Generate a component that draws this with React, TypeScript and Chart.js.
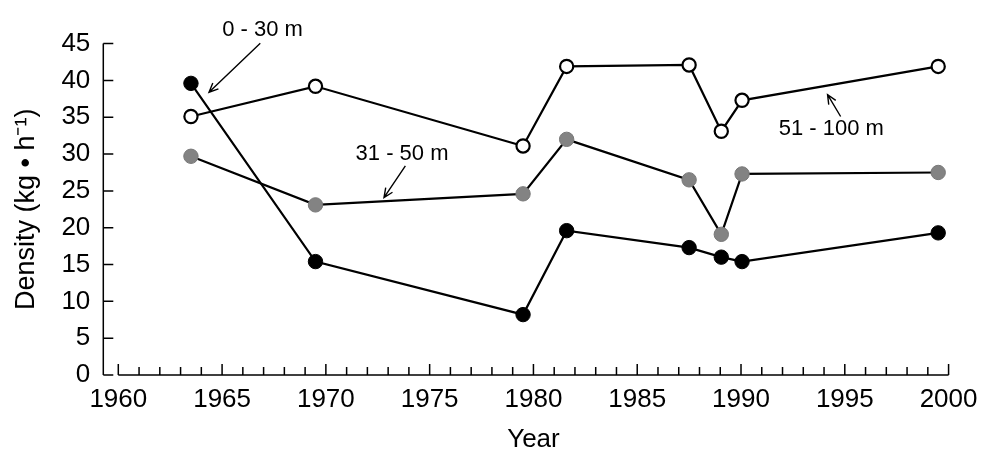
import React, { useEffect, useRef } from "react";
import { Chart, registerables } from "chart.js";

Chart.register(...registerables);

// ---- data ----
const years = [1963.5, 1969.5, 1979.5, 1981.6, 1987.5, 1989.05, 1990.05, 1999.5];
const depth0to30 = [39.6, 15.4, 8.2, 19.6, 17.3, 16.0, 15.4, 19.3];
const depth31to50 = [29.7, 23.1, 24.6, 32.0, 26.5, 19.1, 27.3, 27.5];
const depth51to100 = [35.1, 39.2, 31.1, 41.9, 42.1, 33.1, 37.3, 41.9];
const seriesNames = ["0 - 30 m", "31 - 50 m", "51 - 100 m"];

const xMin = 1960;
const xMax = 2000;
const xStep = 5;
const yMin = 0;
const yMax = 45;
const yStep = 5;
const xTitle = "Year";
const yTitle = "Density (kg \u2022 h\u207B\u00B9)";

// annotation anchors in data units (year, density)
const labelYears = [1966.95, 1973.67, 1994.35];
const labelValues = [46.8, 30.0, 33.4];
const arrowTailYears = [1966.84, 1973.83, 1994.8];
const arrowTailValues = [45.04, 28.4, 35.1];
const arrowHeadYears = [1964.37, 1972.8, 1994.17];
const arrowHeadValues = [38.4, 24.1, 38.07];

const FONT = "'Liberation Sans', Arial, Helvetica, sans-serif";

const axesPlugin = {
  id: "customAxes",
  beforeDatasetsDraw(chart: any) {
    const { ctx, scales } = chart;
    const x = scales.x;
    const y = scales.y;
    ctx.save();
    ctx.strokeStyle = "#000";
    ctx.lineWidth = 1.5;
    const y0 = y.getPixelForValue(yMin);
    const yTop = y.getPixelForValue(yMax);
    const ax = x.getPixelForValue(xMin) - 15;
    ctx.beginPath();
    ctx.moveTo(ax, yTop);
    ctx.lineTo(ax, y0);
    for (let v = yMin; v <= yMax; v += yStep) {
      const py = y.getPixelForValue(v);
      ctx.moveTo(ax, py);
      ctx.lineTo(ax + 10, py);
    }
    const xl = x.getPixelForValue(xMin);
    const xr = x.getPixelForValue(xMax);
    ctx.moveTo(xl, y0);
    ctx.lineTo(xr, y0);
    for (let yr = xMin; yr <= xMax; yr++) {
      const px = x.getPixelForValue(yr);
      const len = (yr - xMin) % xStep === 0 ? 11 : 8;
      ctx.moveTo(px, y0);
      ctx.lineTo(px, y0 - len);
    }
    ctx.stroke();
    ctx.restore();
  },
};

const annotationPlugin = {
  id: "depthLabels",
  afterDraw(chart: any) {
    const { ctx, scales } = chart;
    const x = scales.x;
    const y = scales.y;
    ctx.save();
    ctx.fillStyle = "#000";
    ctx.strokeStyle = "#000";
    ctx.font = `22px ${FONT}`;
    ctx.textAlign = "center";
    ctx.textBaseline = "middle";
    for (let i = 0; i < seriesNames.length; i++) {
      ctx.fillText(seriesNames[i], x.getPixelForValue(labelYears[i]), y.getPixelForValue(labelValues[i]));
      const tx = x.getPixelForValue(arrowTailYears[i]);
      const ty = y.getPixelForValue(arrowTailValues[i]);
      const hx = x.getPixelForValue(arrowHeadYears[i]);
      const hy = y.getPixelForValue(arrowHeadValues[i]);
      const ang = Math.atan2(hy - ty, hx - tx);
      const hl = 10;
      const spread = 0.42;
      ctx.lineWidth = 1.4;
      ctx.beginPath();
      ctx.moveTo(tx, ty);
      ctx.lineTo(hx, hy);
      ctx.moveTo(hx - hl * Math.cos(ang - spread), hy - hl * Math.sin(ang - spread));
      ctx.lineTo(hx, hy);
      ctx.lineTo(hx - hl * Math.cos(ang + spread), hy - hl * Math.sin(ang + spread));
      ctx.stroke();
    }
    ctx.restore();
  },
};

export default function App() {
  const canvasRef = useRef<HTMLCanvasElement | null>(null);

  useEffect(() => {
    if (!canvasRef.current) return;
    const toPts = (vals: number[]) => years.map((yr, i) => ({ x: yr, y: vals[i] }));
    const chart = new Chart(canvasRef.current, {
      type: "line",
      data: {
        datasets: [
          {
            label: seriesNames[0],
            data: toPts(depth0to30),
            borderColor: "#000",
            borderWidth: 2.2,
            pointBackgroundColor: "#000",
            pointBorderColor: "#000",
            pointBorderWidth: 1,
            pointRadius: 7.2,
            tension: 0,
            order: 1,
          },
          {
            label: seriesNames[1],
            data: toPts(depth31to50),
            borderColor: "#000",
            borderWidth: 2.2,
            pointBackgroundColor: "#838383",
            pointBorderColor: "#787878",
            pointBorderWidth: 1,
            pointRadius: 7.2,
            tension: 0,
            order: 2,
          },
          {
            label: seriesNames[2],
            data: toPts(depth51to100),
            borderColor: "#000",
            borderWidth: 2.2,
            pointBackgroundColor: "#fff",
            pointBorderColor: "#000",
            pointBorderWidth: 2.2,
            pointRadius: 6.6,
            tension: 0,
            order: 3,
          },
        ],
      },
      options: {
        responsive: false,
        animation: false,
        layout: { padding: { left: 0, right: 29.7, top: 42, bottom: 0 } },
        plugins: {
          legend: { display: false },
          tooltip: { enabled: false },
        },
        scales: {
          x: {
            type: "linear",
            min: xMin,
            max: xMax,
            grid: { display: false, drawTicks: false },
            border: { display: false },
            ticks: {
              stepSize: xStep,
              color: "#000",
              padding: 9.5,
              font: { family: FONT, size: 26 },
              callback: (v: any) => String(v),
            },
            title: {
              display: true,
              text: xTitle,
              color: "#000",
              font: { family: FONT, size: 26 },
              padding: { top: 0, bottom: -4 },
            },
            afterFit: (s: any) => {
              s.height = 76;
            },
          },
          y: {
            type: "linear",
            min: yMin,
            max: yMax,
            grid: { display: false, drawTicks: false },
            border: { display: false },
            ticks: {
              stepSize: yStep,
              color: "#000",
              padding: 28,
              font: { family: FONT, size: 26 },
            },
            title: {
              display: true,
              text: yTitle,
              color: "#000",
              font: { family: FONT, size: 27 },
              padding: { top: 10, bottom: 0 },
            },
            afterFit: (s: any) => {
              s.width = 118.3;
            },
          },
        },
      },
      plugins: [axesPlugin, annotationPlugin],
    });
    return () => chart.destroy();
  }, []);

  return (
    <div style={{ position: "absolute", left: 0, top: 0, width: 987, height: 451, background: "#fff" }}>
      <canvas ref={canvasRef} width={987} height={451} style={{ display: "block" }} />
    </div>
  );
}
